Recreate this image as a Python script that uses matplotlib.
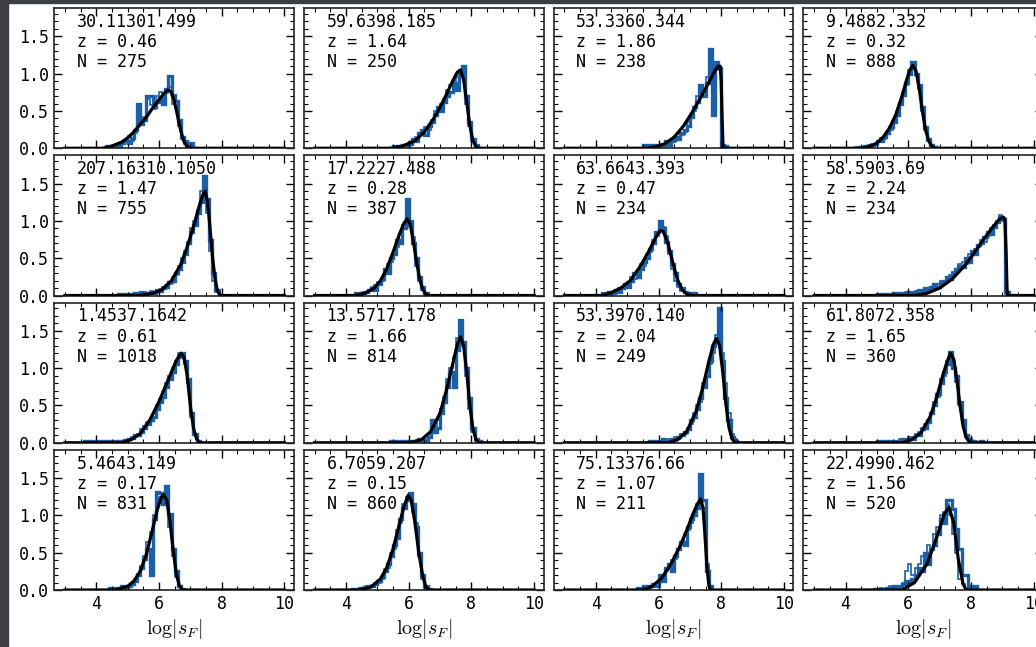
import matplotlib
matplotlib.use("Agg")
import matplotlib.pyplot as plt
from matplotlib.patches import Rectangle
from matplotlib.ticker import MultipleLocator, FormatStrFormatter
import numpy as np

plt.rcParams['font.family'] = ['DejaVu Sans Mono']
plt.rcParams['mathtext.fontset'] = 'cm'

# panel labels, read row by row
names = ["30.11301.499", "59.6398.185", "53.3360.344", "9.4882.332",
         "207.16310.1050", "17.2227.488", "63.6643.393", "58.5903.69",
         "1.4537.1642", "13.5717.178", "53.3970.140", "61.8072.358",
         "5.4643.149", "6.7059.207", "75.13376.66", "22.4990.462"]
redshifts = ["0.46", "1.64", "1.86", "0.32",
             "1.47", "0.28", "0.47", "2.24",
             "0.61", "1.66", "2.04", "1.65",
             "0.17", "0.15", "1.07", "1.56"]
counts = [275, 250, 238, 888,
          755, 387, 234, 234,
          1018, 814, 249, 360,
          831, 860, 211, 520]

# left edge of the first histogram bin (bins are 0.1 wide)
hist_lo = [4.3, 5.5, 5.5, 4.3,
           4.7, 4.3, 4.2, 5.0,
           3.6, 5.4, 5.7, 5.0,
           4.3, 4.2, 5.3, 4.8]

# thick step histogram heights
hist_thick = [
    [0.03, 0.0, 0.03, 0.0, 0.03, 0.07, 0.1, 0.07, 0.14, 0.24, 0.6, 0.33, 0.38, 0.7, 0.7,
     0.55, 0.62, 0.68, 0.6, 0.8, 0.97, 0.72, 0.63, 0.38, 0.15, 0.1, 0.03, 0.07, 0.0],
    [0.03, 0.0, 0.03, 0.05, 0.0, 0.06, 0.12, 0.1, 0.2, 0.25, 0.18, 0.3, 0.35, 0.45, 0.55,
     0.5, 0.62, 0.7, 0.75, 0.88, 0.78, 1.0, 1.1, 0.7, 0.35, 0.12, 0.05, 0.0],
    [0.05, 0.05, 0.0, 0.05, 0.0, 0.05, 0.05, 0.1, 0.05, 0.1, 0.15, 0.12, 0.2, 0.25, 0.3,
     0.42, 0.55, 0.62, 0.85, 0.7, 0.88, 1.33, 0.45, 1.15, 1.08, 0.05, 0.03, 0.0],
    [0.0, 0.02, 0.0, 0.03, 0.02, 0.04, 0.06, 0.1, 0.1, 0.15, 0.2, 0.28, 0.35, 0.45, 0.6,
     0.72, 0.88, 1.0, 1.15, 1.0, 0.85, 0.55, 0.28, 0.12, 0.05, 0.02, 0.0],
    [0.02, 0.0, 0.02, 0.0, 0.02, 0.04, 0.02, 0.05, 0.02, 0.04, 0.05, 0.04, 0.08, 0.06, 0.1,
     0.12, 0.18, 0.2, 0.3, 0.35, 0.45, 0.55, 0.7, 0.85, 0.95, 1.1, 1.25, 1.6, 1.3, 0.75,
     0.3, 0.08, 0.0],
    [0.03, 0.0, 0.03, 0.05, 0.07, 0.1, 0.08, 0.15, 0.22, 0.35, 0.3, 0.5, 0.55, 0.75, 0.7,
     0.9, 1.3, 1.0, 0.7, 0.5, 0.25, 0.12, 0.03, 0.0],
    [0.03, 0.0, 0.05, 0.03, 0.08, 0.05, 0.1, 0.15, 0.12, 0.2, 0.3, 0.25, 0.35, 0.45, 0.5,
     0.62, 0.7, 0.85, 1.0, 0.9, 0.72, 0.6, 0.42, 0.3, 0.15, 0.1, 0.05, 0.03, 0.0, 0.03],
    [0.02, 0.0, 0.02, 0.0, 0.02, 0.03, 0.0, 0.03, 0.02, 0.03, 0.05, 0.03, 0.05, 0.08, 0.05,
     0.1, 0.08, 0.12, 0.15, 0.12, 0.18, 0.2, 0.25, 0.22, 0.3, 0.35, 0.4, 0.38, 0.5, 0.45,
     0.6, 0.55, 0.68, 0.7, 0.78, 0.85, 0.82, 0.92, 0.98, 1.05, 1.02, 0.05],
    [0.02, 0.0, 0.02, 0.0, 0.0, 0.02, 0.0, 0.02, 0.02, 0.0, 0.02, 0.03, 0.02, 0.04, 0.05,
     0.06, 0.1, 0.1, 0.15, 0.2, 0.25, 0.3, 0.35, 0.45, 0.55, 0.62, 0.75, 0.85, 0.95, 1.05,
     1.15, 1.2, 1.1, 0.85, 0.4, 0.12, 0.03, 0.0],
    [0.02, 0.0, 0.03, 0.0, 0.02, 0.02, 0.0, 0.03, 0.02, 0.05, 0.02, 0.03, 0.08, 0.3, 0.15,
     0.2, 0.4, 0.55, 0.75, 0.95, 0.75, 1.25, 1.65, 1.35, 1.0, 0.6, 0.2, 0.05, 0.02, 0.0],
    [0.03, 0.0, 0.03, 0.0, 0.05, 0.0, 0.03, 0.05, 0.05, 0.08, 0.1, 0.15, 0.18, 0.3, 0.35,
     0.45, 0.6, 0.75, 0.9, 1.1, 1.3, 1.38, 1.8, 1.1, 0.6, 0.3, 0.08, 0.03, 0.0],
    [0.03, 0.03, 0.03, 0.0, 0.03, 0.03, 0.03, 0.03, 0.05, 0.03, 0.05, 0.05, 0.1, 0.1, 0.18,
     0.2, 0.28, 0.4, 0.5, 0.65, 0.8, 0.95, 1.05, 1.22, 1.0, 0.9, 0.55, 0.3, 0.1, 0.05,
     0.03, 0.0, 0.0, 0.03],
    [0.0, 0.03, 0.03, 0.02, 0.03, 0.05, 0.03, 0.05, 0.08, 0.12, 0.2, 0.3, 0.42, 0.55, 0.2,
     0.95, 1.32, 1.3, 1.15, 1.4, 1.02, 0.55, 0.25, 0.06, 0.02, 0.0],
    [0.02, 0.0, 0.03, 0.02, 0.04, 0.05, 0.05, 0.08, 0.12, 0.18, 0.25, 0.35, 0.45, 0.6, 0.7,
     0.95, 1.1, 1.2, 1.3, 1.15, 0.85, 0.5, 0.2, 0.05, 0.02],
    [0.03, 0.0, 0.05, 0.03, 0.05, 0.08, 0.05, 0.2, 0.12, 0.3, 0.35, 0.25, 0.45, 0.55, 0.65,
     0.6, 0.85, 0.95, 1.0, 1.1, 1.55, 1.2, 0.25, 0.05, 0.0],
    [0.0, 0.02, 0.02, 0.02, 0.0, 0.03, 0.03, 0.05, 0.03, 0.05, 0.08, 0.12, 0.1, 0.15, 0.2,
     0.3, 0.25, 0.5, 0.35, 0.55, 0.6, 0.75, 0.95, 0.9, 1.2, 1.2, 1.08, 0.82, 0.55, 0.2,
     0.2, 0.05, 0.03, 0.05, 0.0],
]

# thin step histogram heights (same bin start as above)
hist_thin = [
    [0.0, 0.03, 0.03, 0.03, 0.0, 0.07, 0.1, 0.17, 0.1, 0.2, 0.3, 0.36, 0.42, 0.66, 0.58,
     0.52, 0.7, 0.75, 0.58, 0.74, 0.82, 0.6, 0.55, 0.3, 0.12, 0.06, 0.03, 0.0, 0.0],
    [0.0, 0.03, 0.0, 0.03, 0.05, 0.08, 0.1, 0.15, 0.18, 0.22, 0.28, 0.25, 0.38, 0.5, 0.48,
     0.6, 0.66, 0.78, 0.85, 0.9, 0.95, 1.05, 1.0, 0.6, 0.3, 0.1, 0.03, 0.0],
    [0.0, 0.05, 0.05, 0.0, 0.05, 0.05, 0.0, 0.05, 0.1, 0.08, 0.1, 0.15, 0.18, 0.22, 0.35,
     0.4, 0.5, 0.7, 0.75, 0.8, 0.95, 1.2, 0.9, 1.12, 1.05, 0.0, 0.03, 0.0],
    [0.02, 0.0, 0.02, 0.02, 0.04, 0.06, 0.05, 0.08, 0.14, 0.12, 0.22, 0.25, 0.38, 0.48, 0.58,
     0.75, 0.85, 1.05, 1.1, 0.98, 0.8, 0.5, 0.25, 0.1, 0.04, 0.0, 0.0],
    [0.0, 0.02, 0.0, 0.02, 0.0, 0.02, 0.04, 0.03, 0.05, 0.03, 0.06, 0.05, 0.07, 0.08, 0.12,
     0.14, 0.16, 0.25, 0.28, 0.4, 0.5, 0.6, 0.72, 0.9, 1.0, 1.15, 1.4, 1.45, 1.1, 0.6,
     0.2, 0.05, 0.0],
    [0.0, 0.03, 0.05, 0.03, 0.06, 0.12, 0.14, 0.18, 0.2, 0.3, 0.42, 0.45, 0.6, 0.65, 0.82,
     0.95, 1.05, 0.92, 0.78, 0.4, 0.2, 0.08, 0.02, 0.0],
    [0.0, 0.03, 0.03, 0.05, 0.05, 0.1, 0.12, 0.1, 0.18, 0.25, 0.22, 0.3, 0.42, 0.4, 0.55,
     0.58, 0.75, 0.8, 0.95, 0.92, 0.8, 0.55, 0.35, 0.2, 0.12, 0.06, 0.03, 0.0, 0.03, 0.0],
    [0.0, 0.02, 0.0, 0.02, 0.02, 0.0, 0.03, 0.02, 0.03, 0.05, 0.03, 0.05, 0.06, 0.05, 0.08,
     0.1, 0.1, 0.12, 0.1, 0.15, 0.2, 0.18, 0.22, 0.28, 0.32, 0.3, 0.42, 0.45, 0.42, 0.55,
     0.58, 0.62, 0.65, 0.75, 0.72, 0.8, 0.9, 0.95, 1.0, 1.08, 1.0, 0.02],
    [0.0, 0.02, 0.0, 0.02, 0.02, 0.0, 0.02, 0.0, 0.02, 0.02, 0.02, 0.02, 0.03, 0.03, 0.04,
     0.08, 0.08, 0.12, 0.18, 0.22, 0.28, 0.32, 0.4, 0.5, 0.58, 0.68, 0.8, 0.9, 1.0, 1.1,
     1.2, 1.15, 1.05, 0.8, 0.35, 0.1, 0.02, 0.0],
    [0.0, 0.02, 0.0, 0.03, 0.0, 0.02, 0.03, 0.0, 0.03, 0.02, 0.05, 0.05, 0.12, 0.2, 0.18,
     0.3, 0.45, 0.62, 0.85, 1.0, 1.15, 1.4, 1.5, 1.3, 0.9, 0.45, 0.15, 0.03, 0.0, 0.0],
    [0.0, 0.03, 0.0, 0.03, 0.0, 0.03, 0.05, 0.03, 0.08, 0.05, 0.12, 0.12, 0.2, 0.25, 0.4,
     0.5, 0.55, 0.8, 0.95, 1.05, 1.2, 1.45, 1.4, 1.2, 0.8, 0.4, 0.12, 0.05, 0.0],
    [0.0, 0.03, 0.0, 0.03, 0.03, 0.0, 0.03, 0.05, 0.03, 0.05, 0.08, 0.08, 0.12, 0.15, 0.2,
     0.25, 0.3, 0.38, 0.55, 0.62, 0.85, 0.9, 1.1, 1.15, 1.1, 0.82, 0.5, 0.25, 0.08, 0.03,
     0.0, 0.03, 0.0, 0.0],
    [0.0, 0.02, 0.03, 0.03, 0.02, 0.04, 0.05, 0.06, 0.08, 0.15, 0.22, 0.32, 0.45, 0.65, 0.78,
     1.0, 1.2, 1.25, 1.3, 1.2, 0.85, 0.45, 0.18, 0.04, 0.0, 0.0],
    [0.0, 0.02, 0.02, 0.03, 0.05, 0.04, 0.07, 0.1, 0.1, 0.15, 0.28, 0.3, 0.5, 0.55, 0.8,
     0.9, 1.15, 1.25, 1.2, 1.05, 0.9, 0.45, 0.15, 0.03, 0.0],
    [0.0, 0.03, 0.03, 0.05, 0.03, 0.05, 0.1, 0.12, 0.18, 0.25, 0.3, 0.4, 0.42, 0.55, 0.6,
     0.75, 0.8, 0.9, 1.0, 1.15, 1.3, 1.1, 0.35, 0.05, 0.0],
    [0.0, 0.0, 0.02, 0.03, 0.02, 0.02, 0.05, 0.03, 0.05, 0.06, 0.1, 0.25, 0.35, 0.2, 0.3,
     0.35, 0.45, 0.4, 0.6, 0.55, 0.75, 0.85, 1.0, 1.05, 1.15, 1.0, 0.75, 0.5, 0.15, 0.08,
     0.02, 0.03, 0.0, 0.0, 0.0],
]

curve_x = [
    [3.0, 4.2, 4.5, 4.8, 5.0, 5.2, 5.4, 5.6, 5.8, 6.0, 6.15, 6.28, 6.38, 6.48, 6.58, 6.68, 6.78, 6.88, 6.98, 10.0],
    [3.0, 5.4, 5.8, 6.2, 6.5, 6.8, 7.0, 7.2, 7.4, 7.55, 7.65, 7.75, 7.85, 7.95, 8.05, 8.15, 8.25, 10.0],
    [3.0, 5.6, 5.9, 6.2, 6.5, 6.8, 7.1, 7.4, 7.6, 7.8, 7.9, 7.97, 8.0, 8.03, 8.06, 10.0],
    [3.0, 4.5, 4.8, 5.0, 5.2, 5.4, 5.6, 5.8, 5.95, 6.05, 6.15, 6.25, 6.35, 6.45, 6.55, 6.65, 6.75, 6.85, 10.0],
    [3.0, 5.4, 5.8, 6.1, 6.4, 6.7, 6.9, 7.1, 7.25, 7.38, 7.47, 7.55, 7.62, 7.7, 7.78, 7.86, 7.95, 10.0],
    [3.0, 4.3, 4.6, 4.9, 5.1, 5.3, 5.5, 5.7, 5.85, 5.95, 6.05, 6.15, 6.25, 6.35, 6.45, 6.55, 6.65, 10.0],
    [3.0, 4.2, 4.5, 4.8, 5.1, 5.4, 5.7, 5.9, 6.05, 6.15, 6.3, 6.45, 6.6, 6.75, 6.9, 7.0, 10.0],
    [3.0, 6.2, 6.6, 7.0, 7.4, 7.8, 8.1, 8.4, 8.7, 8.9, 9.03, 9.08, 9.12, 9.15, 9.17, 10.0],
    [3.0, 4.8, 5.1, 5.4, 5.7, 6.0, 6.2, 6.4, 6.55, 6.7, 6.8, 6.9, 7.0, 7.1, 7.2, 7.3, 10.0],
    [3.0, 6.0, 6.4, 6.7, 7.0, 7.2, 7.4, 7.55, 7.65, 7.75, 7.85, 7.95, 8.05, 8.15, 8.25, 10.0],
    [3.0, 6.3, 6.6, 6.9, 7.2, 7.4, 7.6, 7.75, 7.85, 7.95, 8.05, 8.15, 8.25, 8.35, 8.45, 10.0],
    [3.0, 5.8, 6.1, 6.4, 6.7, 6.9, 7.1, 7.25, 7.35, 7.45, 7.55, 7.65, 7.75, 7.85, 7.95, 8.05, 10.0],
    [3.0, 4.6, 5.0, 5.2, 5.4, 5.6, 5.8, 5.95, 6.07, 6.15, 6.25, 6.35, 6.45, 6.55, 6.65, 6.75, 10.0],
    [3.0, 4.4, 4.8, 5.1, 5.3, 5.5, 5.7, 5.85, 5.98, 6.08, 6.2, 6.32, 6.45, 6.55, 6.65, 10.0],
    [3.0, 5.5, 5.8, 6.1, 6.4, 6.7, 6.9, 7.1, 7.25, 7.35, 7.42, 7.48, 7.54, 7.6, 7.65, 10.0],
    [3.0, 5.8, 6.2, 6.6, 6.9, 7.15, 7.3, 7.45, 7.6, 7.75, 7.85, 10.0],
]
curve_y = [
    [0, 0, 0.03, 0.08, 0.14, 0.22, 0.32, 0.42, 0.54, 0.65, 0.73, 0.78, 0.76, 0.65, 0.46, 0.26, 0.11, 0.03, 0, 0],
    [0, 0, 0.03, 0.1, 0.22, 0.4, 0.55, 0.72, 0.9, 1.02, 1.05, 0.92, 0.62, 0.3, 0.1, 0.02, 0, 0],
    [0, 0, 0.02, 0.06, 0.15, 0.3, 0.5, 0.72, 0.88, 1.04, 1.1, 1.1, 0.9, 0.4, 0, 0],
    [0, 0, 0.03, 0.07, 0.15, 0.27, 0.45, 0.7, 0.92, 1.05, 1.11, 1.03, 0.8, 0.5, 0.25, 0.1, 0.03, 0, 0],
    [0, 0, 0.03, 0.08, 0.2, 0.42, 0.65, 0.92, 1.15, 1.33, 1.4, 1.25, 0.95, 0.55, 0.25, 0.07, 0, 0],
    [0, 0, 0.03, 0.1, 0.2, 0.36, 0.58, 0.82, 0.97, 1.03, 0.95, 0.72, 0.45, 0.22, 0.08, 0.02, 0, 0],
    [0, 0, 0.04, 0.1, 0.2, 0.38, 0.6, 0.77, 0.87, 0.86, 0.7, 0.45, 0.22, 0.08, 0.02, 0, 0],
    [0, 0, 0.03, 0.1, 0.22, 0.4, 0.57, 0.75, 0.92, 1.02, 1.05, 1.03, 0.6, 0.1, 0, 0],
    [0, 0, 0.04, 0.12, 0.3, 0.55, 0.75, 0.95, 1.1, 1.2, 1.15, 0.9, 0.5, 0.2, 0.05, 0, 0],
    [0, 0, 0.04, 0.15, 0.4, 0.7, 1.05, 1.32, 1.42, 1.3, 0.95, 0.5, 0.18, 0.04, 0, 0],
    [0, 0, 0.04, 0.15, 0.42, 0.72, 1.08, 1.32, 1.4, 1.3, 0.95, 0.52, 0.2, 0.05, 0, 0],
    [0, 0, 0.04, 0.13, 0.35, 0.6, 0.9, 1.1, 1.2, 1.12, 0.85, 0.5, 0.22, 0.07, 0.01, 0, 0],
    [0, 0, 0.05, 0.12, 0.25, 0.48, 0.82, 1.08, 1.24, 1.28, 1.2, 0.92, 0.55, 0.22, 0.06, 0, 0],
    [0, 0, 0.04, 0.15, 0.3, 0.55, 0.88, 1.12, 1.27, 1.2, 0.9, 0.5, 0.18, 0.04, 0, 0],
    [0, 0, 0.05, 0.16, 0.35, 0.6, 0.8, 1.02, 1.16, 1.22, 1.1, 0.75, 0.35, 0.08, 0, 0],
    [0, 0, 0.1, 0.35, 0.7, 1.02, 1.11, 0.9, 0.4, 0.08, 0, 0],
]

BIN = 0.1
BLUE = '#1a5fa8'

fig, axes = plt.subplots(4, 4, sharex=True, sharey=True,
                         figsize=(10.36, 6.47), dpi=100)
plt.subplots_adjust(left=0.0521, right=1.0068, bottom=0.0881, top=0.9876,
                    wspace=0.0417, hspace=0.05)

for i, ax in enumerate(axes.flat):
    lo = hist_lo[i]
    tv = np.array(hist_thick[i])
    sv = np.array(hist_thin[i])
    ax.stairs(tv, lo + BIN * np.arange(len(tv) + 1), color=BLUE, lw=2.4)
    ax.stairs(sv, lo + BIN * np.arange(len(sv) + 1), color=BLUE, lw=1.2)
    ax.plot(curve_x[i], curve_y[i], color='k', lw=2.3, zorder=5)

    ax.text(0.095, 0.965,
            "{}\nz = {}\nN = {}".format(names[i], redshifts[i], counts[i]),
            transform=ax.transAxes, ha='left', va='top', fontsize=12,
            linespacing=1.15)

    ax.set_xlim(2.65, 10.3)
    ax.set_ylim(0, 1.88)
    ax.set_xticks([4, 6, 8, 10])
    ax.set_yticks([0, 0.5, 1.0, 1.5])
    ax.xaxis.set_minor_locator(MultipleLocator(0.5))
    ax.yaxis.set_minor_locator(MultipleLocator(0.1))
    ax.yaxis.set_major_formatter(FormatStrFormatter('%.1f'))
    ax.tick_params(which='both', direction='in', top=True, right=True,
                   labelsize=12)
    ax.tick_params(which='major', length=6, width=1)
    ax.tick_params(which='minor', length=3, width=0.8)
    for sp in ax.spines.values():
        sp.set_linewidth(1.2)
        sp.set_color('#222222')

for ax in axes[-1]:
    ax.set_xlabel(r'$\log|s_F|$', fontsize=14.5, labelpad=3)

# dark screenshot border on the left and top
fig.patches.append(Rectangle((0, 0), 8 / 1036, 1, transform=fig.transFigure,
                             color='#3b3e43', zorder=10))
fig.patches.append(Rectangle((0, 1 - 3 / 647), 1, 3 / 647,
                             transform=fig.transFigure,
                             color='#3b3e43', zorder=10))

fig.savefig('out.png', dpi=100)
